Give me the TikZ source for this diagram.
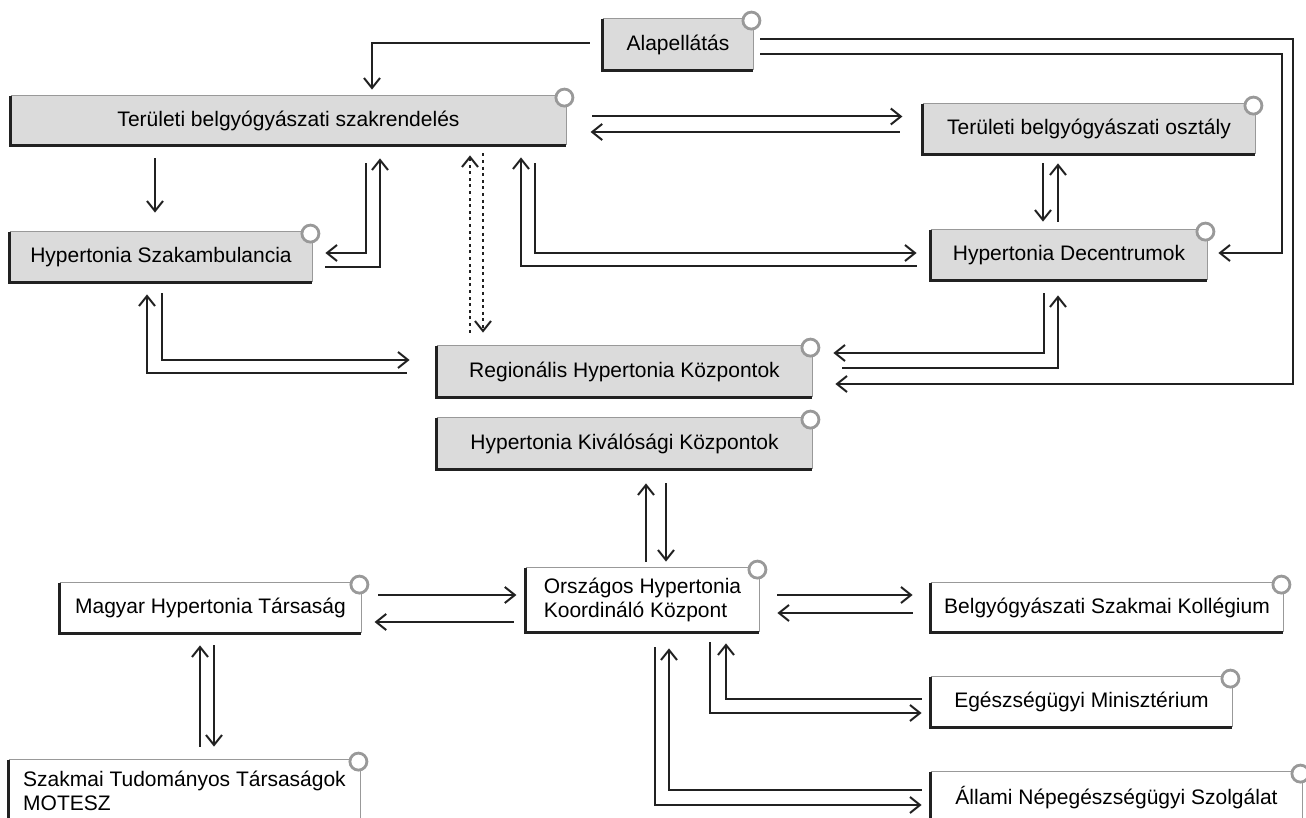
\documentclass[tikz,border=0pt]{standalone}
\usepackage{fontspec}
\setmainfont{Liberation Sans}
\usetikzlibrary{arrows.meta}
\definecolor{boxgray}{gray}{0.86}
\definecolor{rimgray}{gray}{0.6}
\definecolor{edgegray}{gray}{0.13}

\begin{document}
\begin{tikzpicture}[x=0.5pt, y=-0.5pt, >={Straight Barb[length=5pt,width=8pt]},
  unit/.style={fill=boxgray, inner sep=0pt, font=\fontsize{10.5}{12.3}\selectfont},
  unitw/.style={unit, fill=white},
  litrim/.style={rimgray, line width=0.8pt},
  darkrim/.style={edgegray, line width=1.6pt},
  knob/.style={circle, draw=rimgray, fill=white, line width=1.4pt, minimum size=8.5pt, inner sep=0pt},
  link/.style={->, line width=1pt, edgegray},
  dots/.style={link, dash pattern=on 1.5pt off 1.8pt}]
  \useasboundingbox (0,0) rectangle (1306,818);
  % care levels (grey boxes)
  \node[unit, minimum width=75pt, minimum height=25.5pt] (alap) at (678,44.5) {Alapellátás};
  \node[unit, minimum width=277.5pt, minimum height=24.5pt] (szak) at (288.5,120.5) {Területi belgyógyászati szakrendelés};
  \node[unit, minimum width=166pt, minimum height=25pt] (oszt) at (1089,129) {Területi belgyógyászati osztály};
  \node[unit, minimum width=151pt, minimum height=25pt] (ambu) at (161,257) {Hypertonia Szakambulancia};
  \node[unit, minimum width=138pt, minimum height=25pt] (decent) at (1069,255) {Hypertonia Decentrumok};
  \node[unit, minimum width=187.5pt, minimum height=25.5pt] (regio) at (624.5,371.5) {Regionális Hypertonia Központok};
  \node[unit, minimum width=187.5pt, minimum height=25.5pt] (kival) at (624.5,443.5) {Hypertonia Kiválósági Központok};
  % coordination (white boxes)
  \node[unitw, minimum width=116.5pt, minimum height=32pt, align=left] (orsz) at (642.5,600) {Országos Hypertonia\\Koordináló Központ};
  \node[unitw, minimum width=150.5pt, minimum height=25pt] (magyar) at (210.5,608) {Magyar Hypertonia Társaság};
  \node[unitw, minimum width=176pt, minimum height=24.5pt] (koll) at (1107,607.5) {Belgyógyászati Szakmai Kollégium};
  \node[unitw, minimum width=150.5pt, minimum height=25pt] (minisz) at (1081.5,702) {Egészségügyi Minisztérium};
  \node[unitw, minimum width=175.5pt, minimum height=31pt, align=left] (motesz) at (184.5,791) {Szakmai Tudományos Társaságok\\MOTESZ};
  \node[unitw, minimum width=185.5pt, minimum height=26pt] (allami) at (1116.5,798) {Állami Népegészségügyi Szolgálat};
  % rims and knobs
  \foreach \n in {alap,szak,oszt,ambu,decent,regio,kival,orsz,magyar,koll,minisz,motesz,allami}{
    \draw[litrim] (\n.north west) -- (\n.north east) -- (\n.south east);
    \draw[darkrim] (\n.north west) -- (\n.south west) -- (\n.south east);
    \node[knob] at ([shift={(-2,2)}]\n.north east) {};
  }
  % Alapellátás
  \draw[link] ([shift={(-13,-1)}]alap.west) -| ([shift={(83.5,-6)}]szak.north);
  \draw[link] ([shift={(7,10)}]alap.east) -| ([shift={(75,-2)}]decent.east) -- ([shift={(11,-2)}]decent.east);
  \draw[link] ([shift={(7,-5)}]alap.east) -| ([shift={(481,12.5)}]regio.east) -- ([shift={(23,12.5)}]regio.east);
  % szakrendelés <-> osztály
  \draw[link] ([shift={(26,-4)}]szak.east) -- ++(310,0);
  \draw[link] ([shift={(-23,3)}]oszt.west) -- ++(-309,0);
  % szakrendelés <-> Szakambulancia
  \draw[link] ([shift={(-133.5,13)}]szak.south) -- ([shift={(-6,-19)}]ambu.north);
  \draw[link] ([shift={(77.5,18)}]szak.south) |- ([shift={(13,-4)}]ambu.east);
  \draw[link] ([shift={(13,10)}]ambu.east) -| ([shift={(91.5,13)}]szak.south);
  % szakrendelés <-> Regionális (dotted)
  \draw[dots] ([shift={(-154.5,-13)}]regio.north) -- ([shift={(181.5,10)}]szak.south);
  \draw[dots] ([shift={(194.5,8)}]szak.south) -- ([shift={(-141.5,-13)}]regio.north);
  % szakrendelés <-> Decentrumok
  \draw[link] ([shift={(246.5,18)}]szak.south) |- ([shift={(-14,-2)}]decent.west);
  \draw[link] ([shift={(-14,11)}]decent.west) -| ([shift={(232.5,12)}]szak.south);
  % osztály <-> Decentrumok
  \draw[link] ([shift={(-46,9)}]oszt.south) -- ([shift={(-26,-8)}]decent.north);
  \draw[link] ([shift={(-11,-8)}]decent.north) -- ([shift={(-31,9)}]oszt.south);
  % Decentrumok <-> Regionális
  \draw[link] ([shift={(-25,13)}]decent.south) |- ([shift={(21,-18.5)}]regio.east);
  \draw[link] ([shift={(30,-3.5)}]regio.east) -| ([shift={(-11,15)}]decent.south);
  % Szakambulancia <-> Regionális
  \draw[link] ([shift={(1,11)}]ambu.south) |- ([shift={(-27,-11.5)}]regio.west);
  \draw[link] ([shift={(-30,1.5)}]regio.west) -| ([shift={(-14,12)}]ambu.south);
  % Kiválósági <-> Országos
  \draw[link] ([shift={(3.5,-6)}]orsz.north) -- ([shift={(21.5,14)}]kival.south);
  \draw[link] ([shift={(41.5,14)}]kival.south) -- ([shift={(23.5,-6)}]orsz.north);
  % Magyar <-> Országos
  \draw[link] ([shift={(17,-13)}]magyar.east) -- ++(138,0);
  \draw[link] ([shift={(-12,22)}]orsz.west) -- ++(-139,0);
  % Magyar <-> MOTESZ
  \draw[link] ([shift={(15.5,-13)}]motesz.north) -- ([shift={(-10.5,12)}]magyar.south);
  \draw[link] ([shift={(3.5,12)}]magyar.south) -- ([shift={(29.5,-13)}]motesz.north);
  % Országos <-> Kollégium
  \draw[link] ([shift={(18,-5)}]orsz.east) -- ([shift={(-18,-12.5)}]koll.west);
  \draw[link] ([shift={(-18,5.5)}]koll.west) -- ([shift={(18,13)}]orsz.east);
  % Országos <-> Minisztérium
  \draw[link] ([shift={(67.5,10)}]orsz.south) |- ([shift={(-9,11)}]minisz.west);
  \draw[link] ([shift={(-9,-3)}]minisz.west) -| ([shift={(83.5,11)}]orsz.south);
  % Országos <-> Népegészségügyi Szolgálat
  \draw[link] ([shift={(12.5,15)}]orsz.south) |- ([shift={(-9,7)}]allami.west);
  \draw[link] ([shift={(-9,-8)}]allami.west) -| ([shift={(26.5,16)}]orsz.south);
\end{tikzpicture}
\end{document}
